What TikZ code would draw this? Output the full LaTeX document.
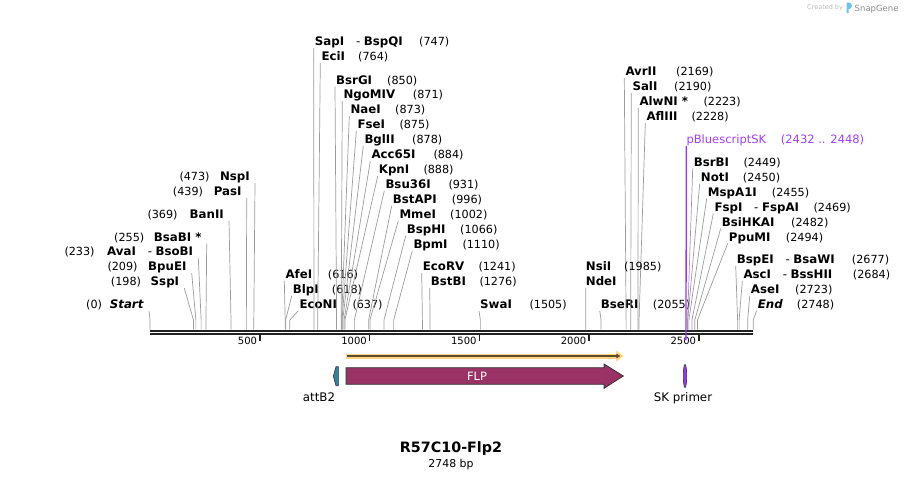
\documentclass[tikz,border=0pt]{standalone}
\usepackage{fontspec}
\setmainfont{DejaVu Sans}
\usetikzlibrary{arrows.meta}

\definecolor{sitegray}{RGB}{155,155,155}
\definecolor{flpfill}{RGB}{153,51,102}
\definecolor{attfill}{RGB}{49,132,155}
\definecolor{primerfill}{RGB}{153,51,255}
\definecolor{primertext}{RGB}{160,64,240}
\definecolor{orfband}{RGB}{255,211,128}
\definecolor{orfline}{RGB}{95,75,45}
\definecolor{backbone}{RGB}{34,34,34}
\definecolor{logoblue}{RGB}{110,195,235}

% position of a base pair on the map
\newcommand{\bpx}[1]{150+0.2195*#1}
% two enzymes cutting at the same site
\newcommand{\enzpair}[2]{#1\hspace{1em}{\mdseries -}\hspace{0.3em}#2}

\tikzset{
  cutname/.style={inner sep=0pt, font={\fontsize{11.8}{13}\selectfont\bfseries}},
  cutnum/.style={inner sep=0pt, font={\fontsize{11.2}{13}\selectfont}},
  cutline/.style={draw=sitegray, line width=0.7pt},
  ticknum/.style={inner sep=0pt, font={\fontsize{10}{11}\selectfont}},
  featlabel/.style={inner sep=0pt, font={\fontsize{11.8}{13}\selectfont}},
  primerlbl/.style={inner sep=0pt, text=primertext, font={\fontsize{11.5}{13}\selectfont}},
}

% label right of its line: id, x, baseline, name, number x, number, bp
\newcommand{\rcut}[7]{%
  \node[cutname, anchor=base west] (#1) at (#2,#3) {#4};
  \node[cutnum, anchor=base west] (#1n) at (#5,#3) {(#6)};
  \coordinate (#1s) at ({\bpx{#7}},320);
  \draw[cutline] ([xshift=-1pt,yshift=-2.5pt]#1.base west) -- (#1s) -- ++(0,9.5);
}
% label left of its line: id, right x, baseline, name, number x, number, bp
\newcommand{\lcut}[7]{%
  \node[cutname, anchor=base east] (#1) at (#2,#3) {#4};
  \node[cutnum, anchor=base west] (#1n) at (#5,#3) {(#6)};
  \coordinate (#1s) at ({\bpx{#7}},320);
  \draw[cutline] ([xshift=5pt,yshift=-2.5pt]#1.base east) -- (#1s) -- ++(0,9.5);
}

\begin{document}
\begin{tikzpicture}[x=1pt,y=-1pt]
\useasboundingbox (0,0) rectangle (904,479);

% left labels
\lcut{start}{144}{308.3}{\textit{Start}}{86}{0}{0}
\lcut{sspi}{179.3}{285.7}{SspI}{110.7}{198}{198}
\lcut{bpuei}{186.7}{270.7}{BpuEI}{107.3}{209}{209}
\lcut{avai}{193.3}{255.7}{\enzpair{AvaI}{BsoBI}}{64.3}{233}{233}
\lcut{bsabi}{201.7}{241}{BsaBI *}{114}{255}{255}
\lcut{banii}{224}{218.3}{BanII}{147.3}{369}{369}
\lcut{pasi}{241.7}{195.7}{PasI}{172.7}{439}{439}
\lcut{nspi}{250}{180.7}{NspI}{179.3}{473}{473}

% right labels
\rcut{afei}{285.3}{278.3}{AfeI}{327.7}{616}{616}
\rcut{blpi}{292.7}{293.3}{BlpI}{331.7}{618}{618}
\rcut{econi}{299.3}{308.3}{EcoNI}{352.3}{637}{637}
\rcut{sapi}{314.7}{45.7}{\enzpair{SapI}{BspQI}}{419}{747}{747}
\rcut{ecii}{321.3}{60.7}{EciI}{358}{764}{764}
\rcut{bsrgi}{336}{84}{BsrGI}{387}{850}{850}
\rcut{ngomiv}{343.3}{98.7}{NgoMIV}{412.7}{871}{871}
\rcut{naei}{350.3}{113.3}{NaeI}{395}{873}{873}
\rcut{fsei}{357.3}{128.7}{FseI}{399.3}{875}{875}
\rcut{bglii}{364.3}{143.3}{BglII}{412}{878}{878}
\rcut{acci}{371.3}{158.7}{Acc65I}{433.3}{884}{884}
\rcut{kpni}{378.7}{173.7}{KpnI}{423.3}{888}{888}
\rcut{bsui}{385.3}{188.3}{Bsu36I}{448.3}{931}{931}
\rcut{bstapi}{392.7}{203.3}{BstAPI}{451.7}{996}{996}
\rcut{mmei}{399.3}{218.3}{MmeI}{450}{1002}{1002}
\rcut{bsphi}{406.7}{233.3}{BspHI}{460}{1066}{1066}
\rcut{bpmi}{413.3}{248.3}{BpmI}{462.3}{1110}{1110}
\rcut{ecorv}{422.7}{270.7}{EcoRV}{478.3}{1241}{1241}
\rcut{bstbi}{430.7}{285.7}{BstBI}{479.3}{1276}{1276}
\rcut{swai}{480}{308.3}{SwaI}{529.3}{1505}{1505}
\rcut{bseri}{600.7}{308.3}{BseRI}{652.7}{2055}{2055}
\rcut{avrii}{625.3}{75.7}{AvrII}{676}{2169}{2169}
\rcut{sali}{632.3}{90.7}{SalI}{674}{2190}{2190}
\rcut{alwni}{639.3}{105.7}{AlwNI *}{703.3}{2223}{2223}
\rcut{afliii}{646.3}{120.7}{AflIII}{691.3}{2228}{2228}
\rcut{bsrbi}{693.7}{166}{BsrBI}{743.3}{2449}{2449}
\rcut{noti}{700.7}{181}{NotI}{742.7}{2450}{2450}
\rcut{mspai}{707.7}{196}{MspA1I}{771.7}{2455}{2455}
\rcut{fspi}{714.3}{211}{\enzpair{FspI}{FspAI}}{813.3}{2469}{2469}
\rcut{bsihkai}{721.7}{226}{BsiHKAI}{791}{2482}{2482}
\rcut{ppumi}{728.7}{241}{PpuMI}{785.7}{2494}{2494}
\rcut{bspei}{736.7}{263.3}{\enzpair{BspEI}{BsaWI}}{851.7}{2677}{2677}
\rcut{asci}{743.3}{278.3}{\enzpair{AscI}{BssHII}}{852.7}{2684}{2684}
\rcut{asei}{750.7}{293.3}{AseI}{795}{2723}{2723}
\rcut{end}{757.7}{308.3}{\textit{End}}{796.7}{2748}{2748}

% NsiI and NdeI share one line
\node[cutname, anchor=base west] (nsii) at (585.7,270.7) {NsiI};
\node[cutnum, anchor=base west] (nsiin) at (624,270.7) {(1985)};
\node[cutname, anchor=base west] (ndei) at (585.7,285.7) {NdeI};
\coordinate (ndeis) at ({\bpx{1985}},320);
\draw[cutline] ([yshift=-2.5pt]ndei.base west) -- (ndeis) -- ++(0,9.5);

% backbone and ruler
\draw[backbone, line width=2.5pt] (150,330.8) -- (753.2,330.8);
\draw[backbone, line width=2pt] (150,334.3) -- (753.2,334.3);
\foreach \t in {500,1000,...,2500} {
  \draw[backbone, line width=1.5pt] ({\bpx{\t}},333) -- ++(0,8);
  \node[ticknum, anchor=base east] (tick\t) at ({\bpx{\t}-2.5},344) {\t};
}

% primer site
\node[primerlbl, anchor=base west] (pbs) at (686.3,143.3) {pBluescriptSK};
\node[primerlbl, anchor=base west] (pbsn) at (780.7,143.3) {(2432 .. 2448)};
\coordinate (pbsbot) at (686,339.5);
\coordinate (pbsend) at ({\bpx{2432}},339.5);
\draw[primerfill, line width=1.3pt] ([yshift=-2.5pt]pbs.base west) -- (pbsbot) -- (pbsend);

% ORF
\coordinate (orfa) at (346,356);
\coordinate (orfb) at (623.3,356);
\draw[orfband, line width=5pt, -{Triangle[width=11pt,length=7pt]}] (orfa) -- (orfb);
\draw[orfline, line width=1.5pt, -{Triangle[width=4.5pt,length=4pt]}] ([xshift=1pt]orfa) -- ([xshift=-3pt]orfb);

% features
\draw[fill=flpfill, draw=black!80, line width=0.8pt] (346,367.7) -- (604,367.7) -- (604,364) -- (623.3,376) -- (604,388.3) -- (604,384.3) -- (346,384.3) -- cycle;
\node[featlabel, text=white, font={\fontsize{11.5}{13}\selectfont}] (flp) at (477,376) {FLP};
\draw[fill=attfill, draw=black!80, line width=0.6pt] (338.3,366.7) -- (338.3,385.7) -- (336,385.7) .. controls (334,381) .. (333.3,376.2) .. controls (334,371) .. (336,366.7) -- cycle;
\node[featlabel, anchor=base] (attb) at (319,401) {attB2};
\draw[fill=primerfill, draw=black!80, line width=0.6pt] (685,376) ellipse [x radius=1.7, y radius=11.6];
\node[featlabel, anchor=base] (skp) at (683,401) {SK primer};

% title
\node[inner sep=0pt, anchor=base, font={\fontsize{14.3}{16}\selectfont\bfseries}] (title) at (451,452.5) {R57C10-Flp2};
\node[inner sep=0pt, anchor=base, font={\fontsize{10.9}{12}\selectfont}] (size) at (451,467.5) {2748 bp};

% logo
\node[inner sep=0pt, anchor=base west, text=black!27, font={\fontsize{6.5}{7}\selectfont}] (created) at (807,9.8) {Created by};
\fill[logoblue] (846.5,2.5) -- (849,2.5) .. controls (852.8,2.5) and (852.8,9) .. (849,9) -- (848.6,9) -- (848.6,13) -- (846.5,13) -- cycle;
\node[inner sep=0pt, anchor=base west, text=black!45, font={\fontsize{8.5}{10}\selectfont}] (snapgene) at (854.5,11) {SnapGene};
\end{tikzpicture}
\end{document}
